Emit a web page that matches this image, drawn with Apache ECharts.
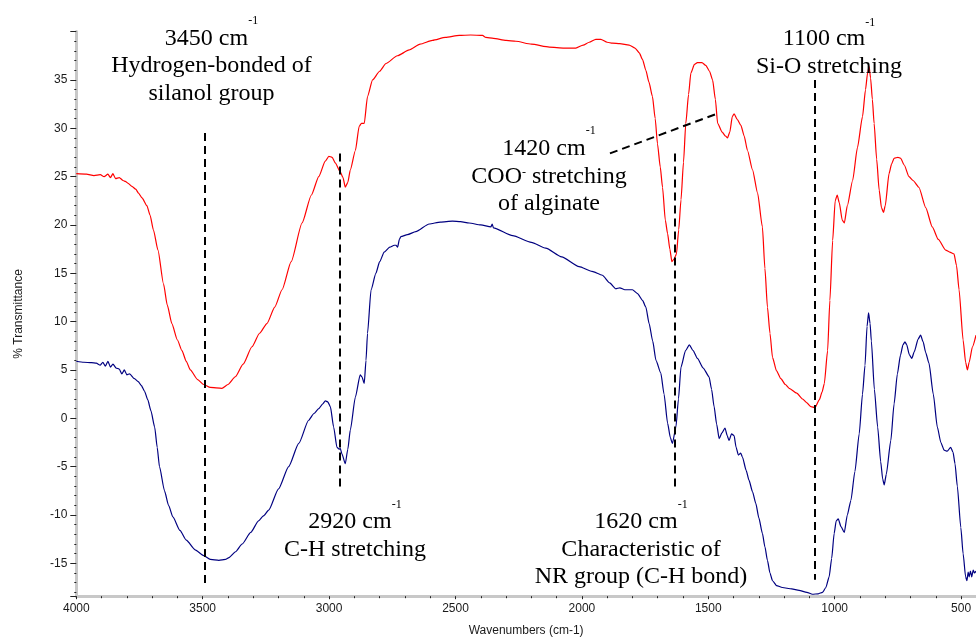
<!DOCTYPE html>
<html>
<head>
<meta charset="utf-8">
<script src="https://cdn.jsdelivr.net/npm/echarts@6/dist/echarts.min.js"></script>
<style>
  html, body { margin: 0; padding: 0; background: #ffffff; }
  #chart { width: 976px; height: 637px; }
</style>
</head>
<body>
<div id="chart"></div>
<script>
// FTIR spectra, wavenumber (cm-1) against % transmittance

// upper spectrum (red)
const redWavenumbers = [
  4000, 3960, 3930, 3905, 3890, 3875, 3865, 3855, 3845, 3830, 3815, 3806, 3795, 3780, 3765, 3754,
  3740, 3721, 3708, 3695, 3677, 3655, 3640, 3622, 3600, 3582, 3565, 3549, 3520, 3496, 3470, 3424,
  3400, 3371, 3340, 3305, 3275, 3246, 3215, 3186, 3150, 3107, 3070, 3041, 3015, 3001, 2988, 2975,
  2956, 2945, 2936, 2926, 2916, 2896, 2881, 2872, 2861, 2848, 2828, 2800, 2775, 2730, 2683, 2640,
  2591, 2540, 2485, 2440, 2393, 2380, 2350, 2300, 2261, 2200, 2129, 2070, 2024, 1995, 1971, 1945,
  1925, 1900, 1879, 1850, 1813, 1790, 1773, 1760, 1747, 1735, 1721, 1710, 1701, 1690, 1681, 1670,
  1661, 1652, 1644, 1635, 1626, 1617, 1608, 1598, 1589, 1578, 1569, 1555, 1543, 1525, 1510, 1495,
  1483, 1472, 1463, 1445, 1432, 1424, 1415, 1405, 1398, 1385, 1371, 1358, 1345, 1325, 1305, 1286,
  1276, 1266, 1256, 1246, 1230, 1213, 1195, 1180, 1150, 1127, 1110, 1094, 1078, 1061, 1050, 1041,
  1028, 1019, 1008, 998, 990, 982, 970, 962, 950, 929, 910, 890, 878, 870, 864, 858,
  851, 844, 834, 824, 815, 807, 800, 785, 775, 765, 750, 739, 725, 706, 690, 667,
  640, 614, 590, 561, 545, 528, 518, 508, 492, 482, 475, 468, 455, 441
];
const redTransmittance = [
  25.3, 25.25, 25.1, 25.2, 25.0, 25.25, 24.9, 25.3, 24.8, 24.9, 24.6, 24.5, 24.3, 24.0, 23.7, 23.3,
  22.8, 22.0, 21.0, 19.5, 17.4, 13.9, 11.7, 9.8, 8.1, 7.0, 5.9, 5.0, 4.0, 3.5, 3.2, 3.1,
  3.5, 4.3, 5.6, 7.4, 8.8, 9.8, 11.5, 13.3, 16.2, 20.2, 23.1, 25.0, 26.6, 27.1, 27.0, 26.4,
  25.5, 24.9, 23.9, 24.4, 25.7, 27.7, 30.2, 30.5, 30.5, 33.3, 35.0, 35.9, 36.7, 37.5, 38.1, 38.7,
  39.1, 39.4, 39.6, 39.65, 39.6, 39.4, 39.3, 39.1, 39.0, 38.7, 38.4, 38.3, 38.3, 38.6, 38.9, 39.2,
  39.2, 38.9, 38.8, 38.75, 38.6, 38.3, 37.8, 37.1, 36.0, 34.8, 33.3, 31.0, 28.4, 26.0, 23.9, 20.5,
  19.1, 17.5, 16.2, 16.5, 17.0, 19.5, 22.6, 26.5, 30.5, 33.5, 35.7, 36.6, 36.8, 36.8, 36.5, 35.9,
  35.0, 33.0, 30.5, 29.6, 29.2, 29.0, 29.6, 31.2, 31.5, 30.9, 30.3, 29.2, 27.7, 25.7, 23.3, 19.8,
  15.5, 11.5, 8.8, 6.3, 4.9, 4.1, 3.5, 3.1, 2.6, 2.0, 1.6, 1.2, 1.1, 1.9, 2.7, 3.6,
  7.0, 12.2, 18.4, 22.5, 23.1, 22.3, 20.5, 20.2, 22.0, 24.6, 28.0, 31.2, 34.0, 35.7, 36.4, 35.2,
  33.0, 30.5, 26.8, 23.6, 21.8, 21.3, 22.0, 25.3, 26.3, 26.9, 27.0, 26.9, 26.2, 25.0, 24.6, 23.9,
  21.8, 19.8, 18.5, 17.4, 17.2, 17.0, 15.8, 13.3, 8.1, 5.8, 5.0, 5.8, 7.4, 8.6
];

// lower spectrum (blue)
const blueWavenumbers = [
  4000, 3970, 3940, 3921, 3905, 3895, 3885, 3875, 3865, 3855, 3842, 3830, 3820, 3810, 3800, 3789,
  3770, 3755, 3743, 3730, 3717, 3705, 3690, 3680, 3671, 3651, 3635, 3618, 3590, 3565, 3530, 3496,
  3470, 3436, 3410, 3396, 3370, 3344, 3310, 3279, 3260, 3239, 3200, 3160, 3120, 3081, 3060, 3041,
  3025, 3015, 3005, 2995, 2982, 2969, 2960, 2956, 2949, 2936, 2926, 2916, 2896, 2877, 2870, 2861,
  2854, 2848, 2834, 2815, 2800, 2782, 2760, 2742, 2735, 2729, 2722, 2716, 2690, 2657, 2604, 2560,
  2512, 2480, 2446, 2400, 2360, 2355, 2350, 2274, 2200, 2143, 2080, 2011, 1960, 1919, 1890, 1866,
  1850, 1830, 1800, 1780, 1760, 1747, 1734, 1720, 1707, 1688, 1675, 1661, 1650, 1642, 1628, 1618,
  1608, 1590, 1575, 1560, 1543, 1520, 1497, 1487, 1477, 1467, 1457, 1446, 1434, 1425, 1418, 1408,
  1398, 1390, 1381, 1372, 1365, 1350, 1339, 1325, 1312, 1300, 1286, 1276, 1266, 1256, 1246, 1230,
  1207, 1170, 1141, 1110, 1088, 1065, 1048, 1035, 1022, 1012, 1002, 994, 986, 975, 962, 950,
  936, 920, 903, 890, 880, 872, 866, 860, 855, 843, 830, 818, 810, 804, 796, 778,
  765, 752, 740, 730, 722, 715, 705, 695, 685, 670, 660, 650, 640, 627, 610, 594,
  580, 567, 555, 541, 532, 524, 515, 501, 492, 482, 477, 472, 468, 463, 458, 452,
  447, 441
];
const blueTransmittance = [
  5.9, 5.8, 5.75, 5.7, 5.5, 5.8, 5.4, 5.9, 5.3, 5.6, 5.2, 5.1, 4.6, 5.0, 4.5, 4.6,
  4.1, 3.8, 3.4, 2.8, 1.9, 0.8, -0.9, -3.0, -5.0, -7.5, -9.0, -10.2, -11.6, -12.6, -13.6, -14.2,
  -14.6, -14.7, -14.6, -14.4, -13.8, -13.0, -11.8, -10.6, -10.1, -9.5, -7.3, -5.0, -2.6, -0.2, 0.5, 1.0,
  1.5, 1.8, 1.7, 1.2, -0.9, -3.0, -3.2, -3.1, -3.7, -4.7, -3.2, -1.2, 2.2, 4.5, 4.3, 3.6,
  6.0, 8.8, 13.3, 15.0, 16.2, 17.2, 17.7, 17.9, 17.9, 17.7, 18.5, 18.8, 19.0, 19.3, 20.1, 20.3,
  20.4, 20.35, 20.2, 20.0, 19.8, 20.1, 19.7, 18.9, 18.2, 17.6, 16.7, 15.7, 15.2, 14.8, 14.0, 13.4,
  13.5, 13.3, 13.3, 12.9, 12.2, 11.5, 9.8, 8.0, 6.0, 4.7, 2.5, -0.5, -2.0, -2.6, -0.9, 2.0,
  5.3, 7.0, 7.6, 7.0, 6.2, 5.2, 4.3, 3.0, 1.2, -0.6, -2.1, -1.5, -1.0, -1.8, -2.3, -1.6,
  -1.8, -3.0, -3.8, -3.6, -4.0, -5.4, -6.4, -7.6, -8.8, -10.3, -11.9, -13.3, -14.7, -16.0, -16.8, -17.3,
  -17.5, -17.65, -17.8, -18.0, -18.2, -18.15, -18.0, -17.5, -16.4, -14.5, -11.9, -10.6, -10.4, -11.2, -11.8, -10.0,
  -8.5, -5.5, -1.6, 2.5, 5.5, 9.5, 10.9, 9.8, 8.0, 3.0, -0.9, -4.5, -6.3, -6.9, -5.8, -2.3,
  1.5, 4.6, 6.5, 7.6, 7.9, 7.6, 6.6, 6.2, 6.9, 8.2, 8.6, 7.9, 6.8, 5.7, 2.5, -0.9,
  -2.5, -3.3, -3.4, -3.0, -3.5, -4.7, -7.0, -11.3, -14.0, -16.4, -16.8, -15.9, -16.4, -15.8, -16.4, -15.7,
  -16.0, -15.8
];

// labelled tick values
const xTickLabels = [4000, 3500, 3000, 2500, 2000, 1500, 1000, 500];
const yTickLabels = [35, 30, 25, 20, 15, 10, 5, 0, -5, -10, -15];

// dashed guide lines: [wavenumber from, %T from, wavenumber to, %T to]
const guideLines = [
  [3491, 29.5, 3491, -17.1],
  [2956, 27.4, 2956, -7.45],
  [1631, 27.4, 1631, -7.45],
  [1078, 35.0, 1078, -16.7],
  [1889, 27.4, 1466, 31.5]
];

// band assignments, one entry per text line; object parts are superscripts
const bandNotes = [
  { cx: 211.5, baselines: [46.7, 74, 101.7],
    lines: [['3450 cm', {sup: '-1', rise: 21.5}], ['Hydrogen-bonded of'], ['silanol group']] },
  { cx: 355, baselines: [530, 558],
    lines: [['2920 cm', {sup: '-1', rise: 21.5}], ['C-H stretching']] },
  { cx: 549, baselines: [156.7, 185, 211.7],
    lines: [['1420 cm', {sup: '-1', rise: 21.5}], ['COO', {sup: '-', rise: 8}, ' stretching'], ['of alginate']] },
  { cx: 641, baselines: [530, 558, 585],
    lines: [['1620 cm', {sup: '-1', rise: 21.5}], ['Characteristic of'], ['NR group (C-H bond)']] },
  { cx: 829, baselines: [46.7, 75],
    lines: [['1100 cm', {sup: '-1', rise: 20}], ['Si-O stretching']] }
];

const zip = (xs, ys) => xs.map((x, i) => [x, ys[i]]);

const NOTE_FONT = '"Liberation Serif", "Times New Roman", serif';
const NOTE_SIZE = 24;
const SUP_SIZE = 12;
const measureCtx = document.createElement('canvas').getContext('2d');
function textWidth(t, size) {
  measureCtx.font = size + 'px ' + NOTE_FONT;
  return measureCtx.measureText(t).width;
}

function noteElements() {
  const out = [];
  bandNotes.forEach(note => {
    note.lines.forEach((parts, i) => {
      const base = note.baselines[i];
      const total = parts.reduce((s, p) =>
        s + (typeof p === 'string' ? textWidth(p, NOTE_SIZE) : textWidth(p.sup, SUP_SIZE)), 0);
      let x = note.cx - total / 2;
      parts.forEach(p => {
        const isSup = typeof p !== 'string';
        const t = isSup ? p.sup : p;
        const size = isSup ? SUP_SIZE : NOTE_SIZE;
        const by = isSup ? base - p.rise : base;
        out.push({
          type: 'text', x: x, y: by - 0.3375 * size, silent: true, z: 100,
          style: { text: t, font: size + 'px ' + NOTE_FONT, fill: '#000', align: 'left', verticalAlign: 'middle' }
        });
        x += textWidth(t, size);
      });
    });
  });
  return out;
}

const chart = echarts.init(document.getElementById('chart'), null, { renderer: 'canvas' });

const axisFont = { fontFamily: '"Liberation Sans", Arial, sans-serif', fontSize: 12, color: '#1a1a1a' };

chart.setOption({
  animation: false,
  backgroundColor: '#ffffff',
  grid: { left: 76.3, right: 0, top: 31.6, bottom: 40.8, containLabel: false, outerBoundsMode: 'none' },
  xAxis: {
    type: 'value',
    inverse: true,
    min: 441,
    max: 4000,
    splitNumber: 7,
    name: 'Wavenumbers (cm-1)',
    nameLocation: 'middle',
    nameGap: 28,
    nameTextStyle: Object.assign({}, axisFont, { fontSize: 12 }),
    axisLine: { show: true, onZero: false, lineStyle: { color: '#c8c8c8', width: 3 } },
    axisTick: { show: true, length: 3, lineStyle: { color: '#222', width: 1 } },
    minorTick: { show: true, splitNumber: 5, length: 2, lineStyle: { color: '#222', width: 1 } },
    splitLine: { show: false },
    axisLabel: Object.assign({}, axisFont, {
      margin: 6,
      formatter: v => xTickLabels.includes(Math.round(v)) && Math.abs(v - Math.round(v)) < 1e-6 ? String(Math.round(v)) : ''
    })
  },
  yAxis: {
    type: 'value',
    min: -18.4,
    max: 40,
    splitNumber: 12,
    name: '% Transmittance',
    nameLocation: 'middle',
    nameGap: 52,
    nameTextStyle: Object.assign({}, axisFont, { fontSize: 12 }),
    axisLine: { show: true, onZero: false, lineStyle: { color: '#c8c8c8', width: 3 } },
    axisTick: { show: true, length: 6, lineStyle: { color: '#222', width: 1 } },
    minorTick: { show: true, splitNumber: 5, length: 2, lineStyle: { color: '#222', width: 1 } },
    splitLine: { show: false },
    axisLabel: Object.assign({}, axisFont, {
      margin: 9,
      formatter: v => yTickLabels.includes(v) ? String(v) : ''
    })
  },
  series: [
    {
      name: 'upper', type: 'line', data: zip(redWavenumbers, redTransmittance),
      showSymbol: false, symbol: 'none', clip: true, z: 3,
      smooth: 0.2, smoothMonotone: 'x',
      lineStyle: { color: '#ff0000', width: 1.2 }
    },
    {
      name: 'lower', type: 'line', data: zip(blueWavenumbers, blueTransmittance),
      showSymbol: false, symbol: 'none', clip: true, z: 3,
      smooth: 0.2, smoothMonotone: 'x',
      lineStyle: { color: '#000080', width: 1.2 },
      markLine: {
        silent: true, animation: false, symbol: ['none', 'none'],
        label: { show: false },
        lineStyle: { color: '#000000', width: 2, type: [8, 5] },
        emphasis: { disabled: true },
        data: guideLines.map(g => [{ coord: [g[0], g[1]] }, { coord: [g[2], g[3]] }])
      }
    }
  ],
  graphic: noteElements()
});
</script>
</body>
</html>
